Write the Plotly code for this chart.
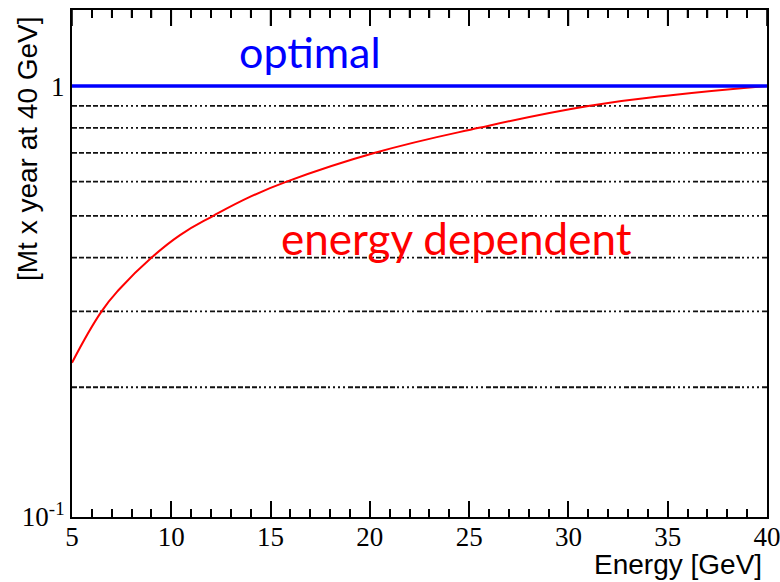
import plotly.graph_objects as go

# Data
energy = [5, 6.49, 7.42, 9.01, 10.44, 12.12, 13.96, 15.81, 20.26, 25.5, 31.08, 35.28, 40]
exposure = [0.228, 0.3, 0.339, 0.4, 0.451, 0.5, 0.553, 0.6, 0.7, 0.8, 0.9, 0.953, 1.0]
optimal_x = [5, 40]
optimal_y = [1, 1]
ref_levels = [0.2, 0.3, 0.4, 0.5, 0.6, 0.7, 0.8, 0.9]
ytick_vals = [0.1, 1]
ytick_text = ["10<sup>-1</sup>", "1"]
x_range = [5, 40]
x_major_step = 5
x_minor_step = 1

dash_pat = ",".join(["5px,2px"] * 7 + ["2px,3px"] * 4)

fig = go.Figure()
for lv in ref_levels:
    fig.add_trace(go.Scatter(x=x_range, y=[lv, lv], mode="lines",
                             line=dict(color="#111111", width=1.8, dash=dash_pat),
                             showlegend=False, hoverinfo="skip"))
fig.add_trace(go.Scatter(x=energy, y=exposure, mode="lines",
                         line=dict(color="#ff0000", width=2, shape="spline", smoothing=1.3),
                         showlegend=False))
fig.add_trace(go.Scatter(x=optimal_x, y=optimal_y, mode="lines",
                         line=dict(color="#0000ff", width=3.5),
                         showlegend=False))

W, H = 780, 582
ML, MR, MT, MB = 72, 13, 10, 65
pw = W - ML - MR
ph = H - MT - MB

fig.update_layout(
    width=W, height=H,
    margin=dict(l=ML, r=MR, t=MT, b=MB),
    paper_bgcolor="white", plot_bgcolor="white",
    xaxis=dict(range=[x_range[0], x_range[1] + 0.001], tick0=x_range[0], dtick=x_major_step,
               ticks="inside", ticklen=16, tickwidth=1.5, tickcolor="black",
               minor=dict(ticks="inside", ticklen=8, dtick=x_minor_step, tickwidth=1.5,
                          tickcolor="black"),
               showgrid=False, zeroline=False, automargin=False,
               showline=True, linecolor="black", linewidth=2, mirror="allticks",
               ticklabelstandoff=-5, ticklabeloverflow="allow",
               tickfont=dict(family="Liberation Serif", size=27, color="black")),
    yaxis=dict(type="log", range=[-1, 0.1765], tickvals=ytick_vals, ticktext=ytick_text,
               ticks="", showline=True, linecolor="black", linewidth=2, mirror=True,
               showgrid=False, zeroline=False, automargin=False,
               tickfont=dict(family="Liberation Serif", size=27, color="black")),
)

# mirrored ticks along the top frame, drawn in pixel units from the top edge
top_ticks = list(range(x_range[0], x_range[1] + 1, x_minor_step))
for t in top_ticks:
    ln = 16 if (t - x_range[0]) % x_major_step == 0 else 8
    fig.add_shape(type="line", xref="x", yref="paper", ysizemode="pixel", yanchor=1,
                  x0=t, x1=t, y0=0, y1=-ln,
                  layer="above", line=dict(color="#000000", width=1.6))


def px2paper(px, py):
    return (px - ML) / pw, 1 - (py - MT) / ph


labels = [
    ("optimal", 310, 52, "center", 0, "Lato", 43, "#0000ff"),
    ("energy dependent", 456, 238, "center", 0, "Lato", 44, "#ff0000"),
    ("Energy [GeV]", 764, 564, "right", 0, "Liberation Sans", 28, "black"),
    ("[Mt x year at 40 GeV]", 27, 149, "center", -90, "Liberation Sans", 28, "black"),
]
for txt, px, py, xa, ang, fam, sz, col in labels:
    ax, ay = px2paper(px, py)
    fig.add_annotation(text=txt, x=ax, y=ay, xref="paper", yref="paper", showarrow=False,
                       xanchor=xa, yanchor="middle", textangle=ang,
                       font=dict(family=fam, size=sz, color=col))

fig.write_html("out.html")
